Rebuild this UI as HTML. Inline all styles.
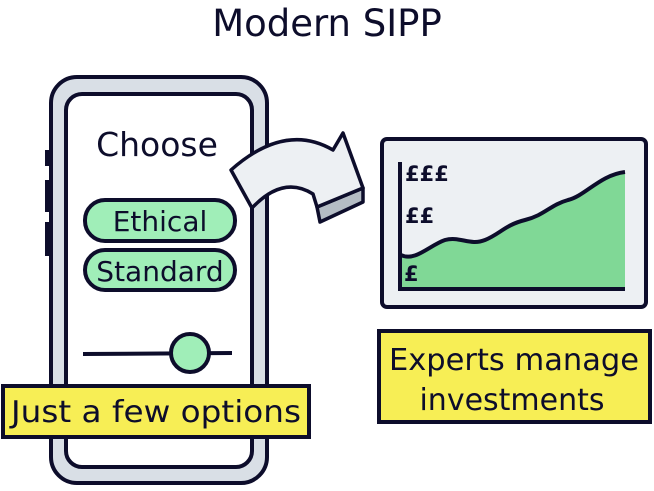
<!DOCTYPE html>
<html><head><style>
body{margin:0;width:654px;height:486px;background:#fff;overflow:hidden}
text{font-family:"DejaVu Sans","Liberation Sans",sans-serif;fill:#0d0d2b}
</style></head><body>
<svg width="654" height="486" viewBox="0 0 654 486" xmlns="http://www.w3.org/2000/svg">
<text x="327" y="36" font-size="37" text-anchor="middle" fill="#000">Modern SIPP</text>
<rect x="45" y="150" width="6" height="16" fill="#0d0d2b"/>
<rect x="45" y="180" width="6" height="32" fill="#0d0d2b"/>
<rect x="45" y="222" width="6" height="34" fill="#0d0d2b"/>
<rect x="51" y="77" width="216" height="406" rx="26" fill="#d9dfe6" stroke="#0d0d2b" stroke-width="4"/>
<rect x="66" y="94" width="186" height="373" rx="16" fill="#fff" stroke="#0d0d2b" stroke-width="4"/>
<text x="157" y="156" font-size="33" text-anchor="middle">Choose</text>
<rect x="85" y="200" width="150" height="41" rx="20" fill="#a0eeb8" stroke="#0d0d2b" stroke-width="4"/>
<text x="160" y="231" font-size="28" text-anchor="middle">Ethical</text>
<rect x="85" y="250" width="150" height="40" rx="20" fill="#a0eeb8" stroke="#0d0d2b" stroke-width="4"/>
<text x="160" y="281" font-size="28" text-anchor="middle">Standard</text>
<line x1="83" y1="354" x2="232" y2="353" stroke="#0d0d2b" stroke-width="4"/>
<circle cx="190" cy="353" r="19" fill="#a0eeb8" stroke="#0d0d2b" stroke-width="4"/>
<rect x="3" y="386" width="306" height="51" fill="#f7ee55" stroke="#0d0d2b" stroke-width="4"/>
<text x="156" y="422" font-size="30" text-anchor="middle" textLength="290" lengthAdjust="spacingAndGlyphs">Just a few options</text>
<path d="M317,207 L320,222 L363,202 L363,188 Z" fill="#b4bcc4" stroke="#0d0d2b" stroke-width="3.5" stroke-linejoin="round"/>
<path d="M231,170 Q285,122 333,150 L343,133 L363,188 L317,207 L313,194 Q283,175 252,208 Z" fill="#edf0f3" stroke="#0d0d2b" stroke-width="3.5" stroke-linejoin="round"/>
<rect x="382" y="139" width="264" height="168" rx="5" fill="#edf0f3" stroke="#0d0d2b" stroke-width="4"/>
<path d="M401,255 C415,262 430,245 445,240 C460,236 470,246 485,240 C500,234 505,225 525,220 C545,215 550,205 568,200 C585,196 600,175 625,172 L625,289 L401,289 Z" fill="#80d896"/>
<path d="M401,255 C415,262 430,245 445,240 C460,236 470,246 485,240 C500,234 505,225 525,220 C545,215 550,205 568,200 C585,196 600,175 625,172" fill="none" stroke="#0d0d2b" stroke-width="4"/>
<line x1="400" y1="162" x2="400" y2="291" stroke="#0d0d2b" stroke-width="4"/>
<line x1="398" y1="289" x2="625" y2="289" stroke="#0d0d2b" stroke-width="4"/>
<text x="405" y="181" font-size="21" font-weight="bold">£££</text>
<text x="405" y="223" font-size="21" font-weight="bold">££</text>
<text x="404" y="281" font-size="21" font-weight="bold">£</text>
<rect x="379" y="331" width="271" height="91" fill="#f7ee55" stroke="#0d0d2b" stroke-width="4"/>
<text x="514" y="370" font-size="30" text-anchor="middle" textLength="250" lengthAdjust="spacingAndGlyphs">Experts manage</text>
<text x="512" y="410" font-size="30" text-anchor="middle">investments</text>
</svg>
</body></html>
